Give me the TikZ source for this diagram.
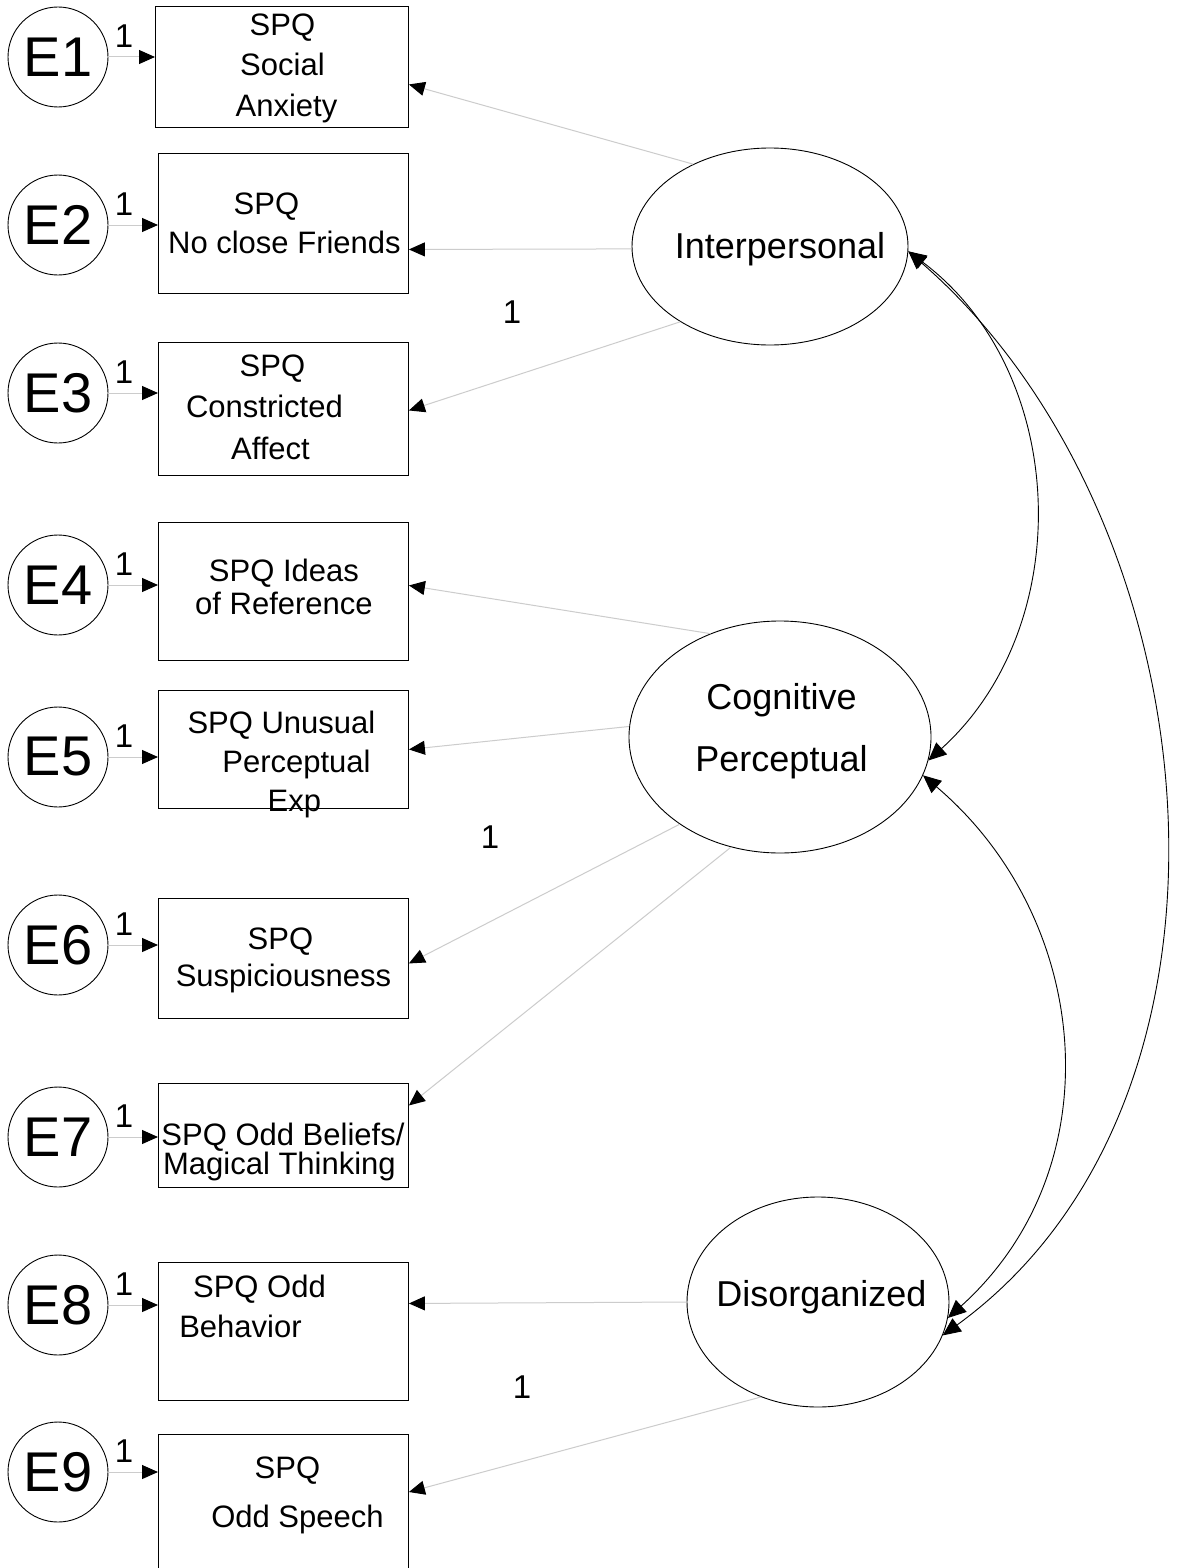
\documentclass[tikz,border=0pt]{standalone}
\usepackage{fontspec}
\setmainfont{Liberation Sans}
\usetikzlibrary{arrows.meta,shapes.geometric,calc}
\begin{document}
\begin{tikzpicture}[x=1pt,y=-1pt,
  errc/.style={circle,draw=black,line width=0.9pt,minimum size=100pt,inner sep=0pt,font=\fontsize{56}{56}\selectfont},
  obsbox/.style={draw=black,line width=0.9pt,anchor=north west,inner sep=0pt},
  btxt/.style={align=center,font=\fontsize{31}{#1}\selectfont,text depth=0pt,inner sep=0pt},
  btxt/.default=40,
  latent/.style={ellipse,draw=black,line width=0.9pt,inner sep=0pt},
  ltxt/.style={align=center,font=\fontsize{36}{62}\selectfont,text depth=0pt,inner sep=0pt},
  loadarr/.style={draw=black!20,line width=1pt,-{Triangle[length=16pt,width=14pt,color=black]}},
  covarr/.style={draw=black,line width=0.9pt,{Triangle[length=18pt,width=16pt]}-{Triangle[length=18pt,width=16pt]}},
  one/.style={font=\fontsize{33}{33}\selectfont,inner sep=0pt},
  bigone/.style={font=\fontsize{33}{33}\selectfont,inner sep=0pt}
]
\useasboundingbox[fill=white] (0,0) rectangle (1181,1568);

% observed variables
\node[obsbox,minimum width=253pt,minimum height=121pt,
  label={[btxt=40.5,shift={(0.5,-2)}]center:{SPQ\\Social\\\hspace*{8pt}Anxiety}}] (b1) at (155,6) {};
\node[obsbox,minimum width=250pt,minimum height=140pt,
  label={[btxt=39,shift={(1,-0.5)}]center:{\hspace*{-36pt}SPQ\\No close Friends}}] (b2) at (158,153) {};
\node[obsbox,minimum width=250pt,minimum height=133pt,
  label={[btxt=41.5,shift={(-13,-2)}]center:{\hspace*{4pt}SPQ\\\hspace*{-12pt}Constricted\\Affect}}] (b3) at (158,342) {};
\node[obsbox,minimum width=250pt,minimum height=138pt,
  label={[btxt=33,shift={(0.5,-4.5)}]center:{SPQ Ideas\\of Reference}}] (b4) at (158,522) {};
\node[obsbox,minimum width=250pt,minimum height=118pt,
  label={[btxt=39,shift={(-2,12)}]center:{SPQ Unusual\\\hspace*{30pt}Perceptual\\\hspace*{26pt}Exp}}] (b5) at (158,690) {};
\node[obsbox,minimum width=250pt,minimum height=120pt,
  label={[btxt=37,shift={(0,-1.5)}]center:{\hspace*{-6pt}SPQ\\Suspiciousness}}] (b6) at (158,898) {};
\node[obsbox,minimum width=250pt,minimum height=104pt,
  label={[btxt=29.5,shift={(-2,13.5)}]center:{\hspace*{3pt}SPQ Odd Beliefs/\\\hspace*{-4pt}Magical Thinking}}] (b7) at (158,1083) {};
\node[obsbox,minimum width=250pt,minimum height=138pt,
  label={[btxt=40,shift={(-24,-25)}]center:{SPQ Odd\\\hspace*{-38pt}Behavior}}] (b8) at (158,1262) {};
\node[obsbox,minimum width=250pt,minimum height=166pt,
  label={[btxt=49,shift={(14,-25.5)}]center:{\hspace*{-20pt}SPQ\\Odd Speech}}] (b9) at (158,1434) {};

% error terms
\node[errc] (E1) at (58,57) {E1};
\node[errc] (E2) at (58,225) {E2};
\node[errc] (E3) at (58,393) {E3};
\node[errc] (E4) at (58,585) {E4};
\node[errc] (E5) at (58,757) {E5};
\node[errc] (E6) at (58,945) {E6};
\node[errc] (E7) at (58,1137) {E7};
\node[errc] (E8) at (58,1305) {E8};
\node[errc] (E9) at (58,1472) {E9};

\foreach \i in {1,...,9}{
  \draw[loadarr] (E\i) -- (b\i.west |- E\i);
}
\node[one] (w1) at (124,36) {1};
\node[one] (w2) at (124,204) {1};
\node[one] (w3) at (124,372) {1};
\node[one] (w4) at (124,564) {1};
\node[one] (w5) at (124,736) {1};
\node[one] (w6) at (124,924) {1};
\node[one] (w7) at (124,1116) {1};
\node[one] (w8) at (124,1284) {1};
\node[one] (w9) at (124,1451) {1};

% latent variables
\node[latent,minimum width=276pt,minimum height=197pt,
  label={[ltxt,shift={(10,-1)}]center:Interpersonal}] (Int) at (770,246.5) {};
\node[latent,minimum width=302pt,minimum height=232pt,
  label={[ltxt,shift={(1.5,-10)}]center:{Cognitive\\Perceptual}}] (Cog) at (780,737) {};
\node[latent,minimum width=262pt,minimum height=210pt,
  label={[ltxt,shift={(3.5,-8.5)}]center:Disorganized}] (Dis) at (818,1302) {};

% loadings
\draw[loadarr] (Int.133.8) -- ($(b1.east)+(0,17.5)$);
\draw[loadarr] (Int.181) -- ($(b2.east)+(0,26)$);
\draw[loadarr] (Int.220.2) -- ($(b3.east)+(0,1.5)$);
\draw[loadarr] (Cog.124.2) -- ($(b4.east)+(0,-6)$);
\draw[loadarr] (Cog.176.6) -- ($(b5.east)+(0,0)$);
\draw[loadarr] (Cog.221.7) -- ($(b6.east)+(0,5)$);
\draw[loadarr] (Cog.246.4) -- ($(b7.east)+(0,-30)$);
\draw[loadarr] (Dis.180) -- ($(b8.east)+(0,-28)$);
\draw[loadarr] (Dis.239) -- ($(b9.north east)+(0,58)$);

\node[bigone] (f1) at (512,312) {1};
\node[bigone] (f2) at (490,837) {1};
\node[bigone] (f3) at (522,1387) {1};

% covariances
\draw[covarr] (Int.-2) .. controls (1069,372) and (1078,625) .. (Cog.-9.7);
\draw[covarr] (Cog.-15.2) .. controls (1092,919) and (1115,1167) .. (Dis.-7);
\draw[covarr] (Int.-2) .. controls (1215,518) and (1272,1096) .. (Dis.-15.6);
\end{tikzpicture}
\end{document}
